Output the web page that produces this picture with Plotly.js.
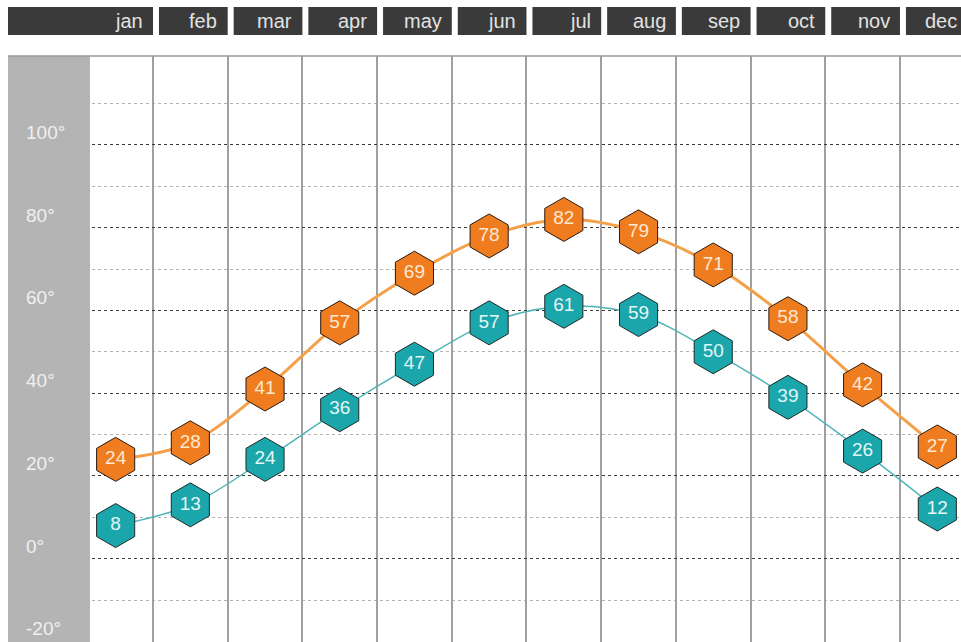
<!DOCTYPE html>
<html>
<head>
<meta charset="utf-8">
<script src="https://cdn.plot.ly/plotly-3.0.1.min.js"></script>
<style>html,body{margin:0;padding:0;background:#fff;}#chart{width:961px;height:642px;}</style>
</head>
<body>
<div id="chart"></div>
<script>
const months = ["jan","feb","mar","apr","may","jun","jul","aug","sep","oct","nov","dec"];
const highTemps = [24,28,41,57,69,78,82,79,71,58,42,27];
const lowTemps = [8,13,24,36,47,57,61,59,50,39,26,12];
const yTickVals = [100,80,60,40,20,0,-20];
const yTickText = ["100°","80°","60°","40°","20°","0°","-20°"];
const yMinorVals = [110,90,70,50,30,10,-10];

const X0 = -1.441, X1 = 11.317;
const toPaperX = v => (v - X0) / (X1 - X0);
const xIdx = months.map((m, i) => i);
const FONT = "Liberation Sans, Arial, Helvetica, sans-serif";

const traces = [
  {
    x: xIdx, y: lowTemps, text: lowTemps.map(String),
    mode: "lines+markers+text", type: "scatter",
    line: {color: "#4fb4b6", width: 1.5, shape: "spline", smoothing: 1},
    marker: {symbol: "hexagon", size: 44, color: "#1aa6aa", line: {color: "#1f2a2a", width: 1}},
    textposition: "middle center",
    textfont: {family: FONT, size: 19, color: "#e4f6f6"},
    hoverinfo: "none", cliponaxis: false
  },
  {
    x: xIdx, y: highTemps, text: highTemps.map(String),
    mode: "lines+markers+text", type: "scatter",
    line: {color: "#f4a048", width: 3, shape: "spline", smoothing: 1},
    marker: {symbol: "hexagon", size: 44, color: "#ef7d1f", line: {color: "#2a1a10", width: 1}},
    textposition: "middle center",
    textfont: {family: FONT, size: 19, color: "#fde8d2"},
    hoverinfo: "none", cliponaxis: false
  }
];

const shapes = [];
const annotations = [];
// left gray band
shapes.push({type: "rect", xref: "paper", yref: "paper", x0: 0, x1: toPaperX(-0.343), y0: 0, y1: 1,
  fillcolor: "#b4b4b4", line: {width: 0}, layer: "above"});
// top line
shapes.push({type: "line", xref: "paper", yref: "paper", x0: 0, x1: 1, y0: 1, y1: 1,
  line: {color: "#9a9a9a", width: 1.5}, layer: "above"});
// header boxes + labels
const gap = 0.08;
months.forEach((m, i) => {
  const left = i === 0 ? X0 : i - 0.5 + gap;
  const right = i + 0.5;
  shapes.push({type: "rect", xref: "paper", yref: "paper",
    x0: toPaperX(left), x1: toPaperX(right), y0: 1.0358, y1: 1.0836,
    fillcolor: "#3a3a3a", line: {width: 0}});
  const lx = i === months.length - 1 ? 0.998 : toPaperX(right - 0.11);
  annotations.push({xref: "paper", yref: "paper", x: lx, y: 1.0597,
    xanchor: "right", yanchor: "middle", text: m, showarrow: false,
    font: {family: FONT, size: 20, color: "#e2e2e2"}});
});
// y tick labels
yTickVals.forEach((v, i) => {
  annotations.push({xref: "paper", yref: "y", x: toPaperX(-1.23), y: v, xanchor: "left", yanchor: "bottom",
    yshift: 0, text: yTickText[i], showarrow: false,
    font: {family: FONT, size: 19, color: "#f0f0f0"}});
});

const layout = {
  width: 961, height: 642,
  margin: {l: 8, r: 0, t: 56, b: 0, pad: 0},
  paper_bgcolor: "#ffffff", plot_bgcolor: "#ffffff",
  showlegend: false,
  xaxis: {range: [X0, X1], tickvals: [0.5,1.5,2.5,3.5,4.5,5.5,6.5,7.5,8.5,9.5,10.5],
    showticklabels: false, ticks: "", showgrid: true, gridcolor: "#a0a0a0", gridwidth: 2,
    zeroline: false, showline: false, fixedrange: true},
  yaxis: {range: [-20.15, 121.5], tickvals: yTickVals, showticklabels: false, ticks: "",
    showgrid: true, gridcolor: "#3c3c3c", gridwidth: 1, griddash: "dot", zeroline: false,
    minor: {tickvals: yMinorVals, showgrid: true, gridcolor: "#b4b4b4", gridwidth: 1, griddash: "dot"},
    fixedrange: true},
  shapes: shapes,
  annotations: annotations
};

Plotly.newPlot("chart", traces, layout, {displayModeBar: false, staticPlot: true});
</script>
</body>
</html>
